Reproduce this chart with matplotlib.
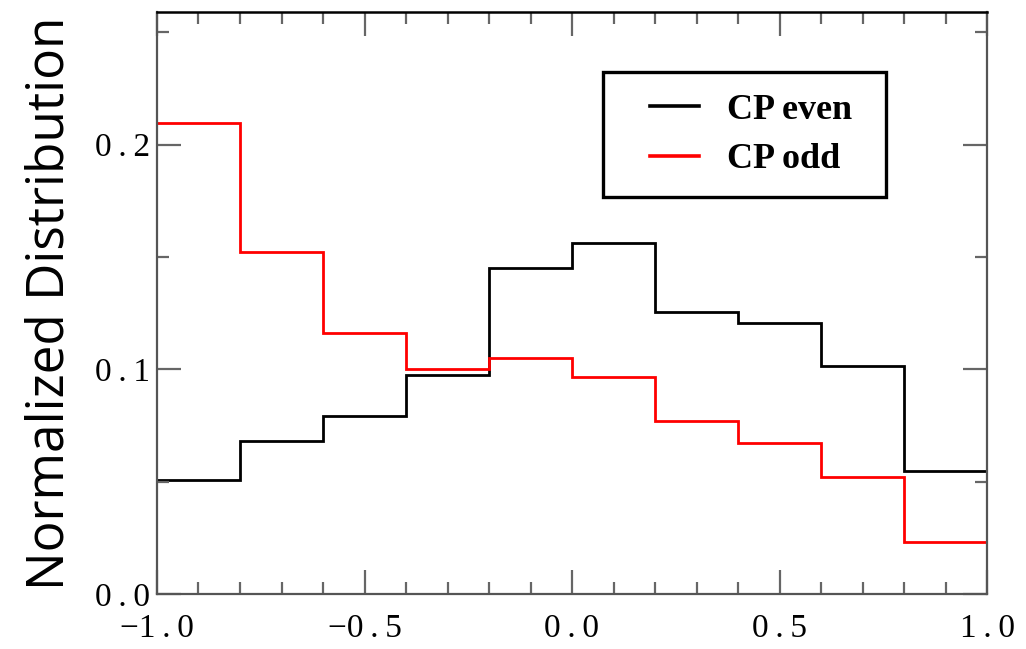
import matplotlib
matplotlib.use("Agg")
import matplotlib.pyplot as plt
from matplotlib.patches import Rectangle
from matplotlib.ticker import MultipleLocator, FixedLocator

edges = [-1.0, -0.8, -0.6, -0.4, -0.2, 0.0, 0.2, 0.4, 0.6, 0.8, 1.0]
cp_even = [0.0508, 0.068, 0.079, 0.0975, 0.145, 0.156, 0.1256, 0.1207, 0.1016, 0.0548]
cp_odd = [0.2098, 0.152, 0.116, 0.1002, 0.105, 0.0967, 0.077, 0.067, 0.052, 0.023]
xticks = [-1.0, -0.5, 0.0, 0.5, 1.0]
xticklabels = ["\u22121\u2009.\u20090", "\u22120\u2009.\u20095", "0\u2009.\u20090", "0\u2009.\u20095", "1\u2009.\u20090"]
yticks = [0.0, 0.1, 0.2]
yticklabels = ["0\u2009.\u20090", "0\u2009.\u20091", "0\u2009.\u20092"]

W, H = 1026, 649
fig = plt.figure(figsize=(W/100, H/100), dpi=100)
ax = fig.add_axes([157/W, 1 - 594/H, (987-157)/W, (594-12)/H])

ax.stairs(cp_even, edges, color="black", lw=2.0, baseline=None, label="CP even")
ax.stairs(cp_odd, edges, color="#ff0000", lw=2.0, baseline=None, label="CP odd")

ax.set_xlim(-1.0, 1.0)
ax.set_ylim(0.0, 0.259)

ax.xaxis.set_major_locator(FixedLocator(xticks))
ax.set_xticklabels(xticklabels)
ax.xaxis.set_minor_locator(MultipleLocator(0.1))
ax.yaxis.set_major_locator(FixedLocator(yticks))
ax.set_yticklabels(yticklabels)
ax.yaxis.set_minor_locator(MultipleLocator(0.05))

tc = "#666666"
for lab in ax.get_xticklabels() + ax.get_yticklabels():
    lab.set_fontfamily(["Liberation Serif", "DejaVu Serif"])
    lab.set_fontsize(24)
    lab.set_color("black")
ax.tick_params(which="both", direction="in", top=True, right=True, color=tc, width=1.6)
ax.tick_params(which="major", length=17)
ax.tick_params(which="minor", length=8.5)
ax.tick_params(axis="x", which="major", pad=14)
ax.tick_params(axis="y", which="major", pad=5)

for s in ["left", "bottom", "right"]:
    ax.spines[s].set_color("#555555")
    ax.spines[s].set_linewidth(1.6)
ax.spines["top"].set_color("black")
ax.spines["top"].set_linewidth(1.8)

ax.set_ylabel("Normalized Distribution", fontfamily="Open Sans", fontsize=37, labelpad=14)

# legend box (frame drawn separately to match asymmetric padding)
box = Rectangle(((603-157)/830, (594-197)/582), (886-603)/830, (197-72)/582,
                transform=ax.transAxes, fill=False, edgecolor="black", lw=2.4, zorder=5)
ax.add_patch(box)
leg = ax.legend(loc="center left", bbox_to_anchor=((650-157)/830, (594-135)/582),
                prop={"family": "Liberation Serif", "weight": "bold", "size": 26},
                frameon=False, handlelength=1.36, handletextpad=0.78,
                borderpad=0, labelspacing=0.45, borderaxespad=0)
for l in leg.get_lines():
    l.set_linewidth(2.6)

fig.savefig("out.png", dpi=100)
